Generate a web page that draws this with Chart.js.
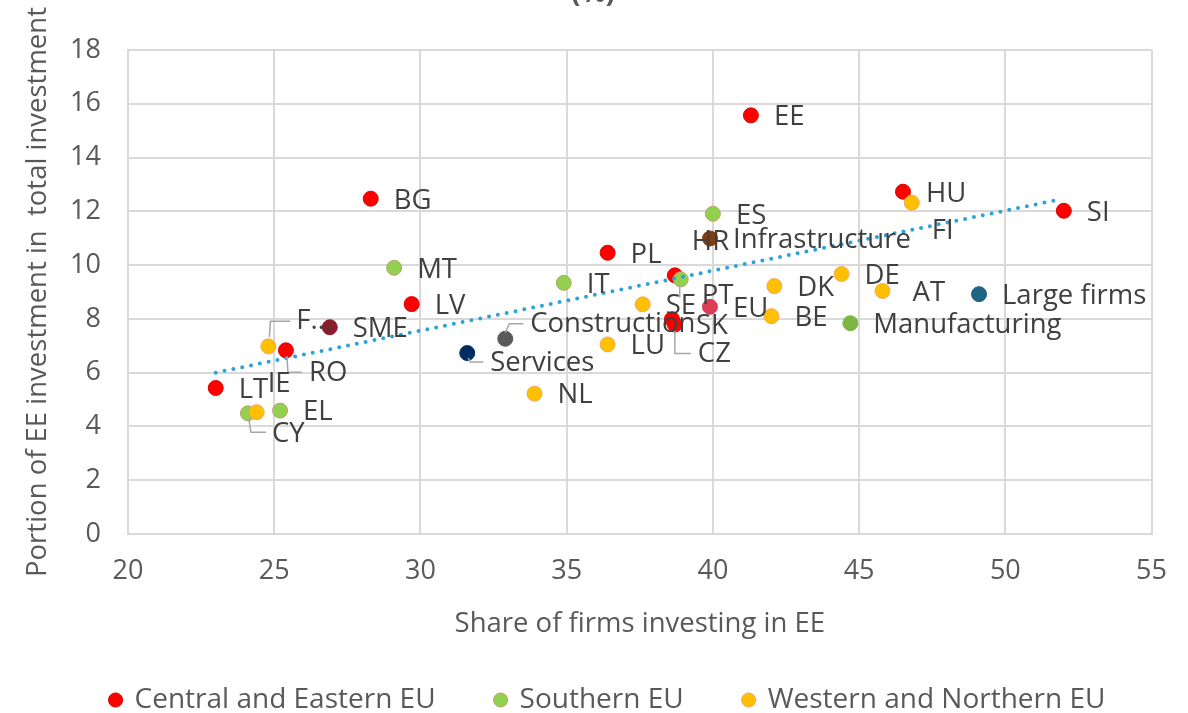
<!DOCTYPE html>
<html>
<head>
<meta charset="utf-8">
<script src="https://cdn.jsdelivr.net/npm/chart.js@4.4.0/dist/chart.umd.min.js"></script>
<style>
  html,body{margin:0;padding:0;background:#fff;}
  #wrap{width:1188px;height:713px;position:relative;}
</style>
</head>
<body>
<div id="wrap"><canvas id="ch"></canvas></div>
<script>
// DATA
const ceeNames = ['EE','HU','SI','BG','PL','HR','LV','SK','CZ','RO','LT'];
const ceeX     = [41.3, 46.5, 52.0, 28.3, 36.4, 38.7, 29.7, 38.6, 38.7, 25.4, 23.0];
const ceeY     = [15.57,12.73,12.02,12.47,10.46,9.62, 8.55, 7.99, 7.79, 6.83, 5.43];

const southNames = ['ES','MT','IT','PT','EL','CY'];
const southX     = [40.0, 29.1, 34.9, 38.9, 25.2, 24.1];
const southY     = [11.91,9.90, 9.34, 9.47, 4.59, 4.49];

const wnNames = ['FI','DE','DK','AT','SE','BE','LU','F…','NL','IE'];
const wnX     = [46.8, 44.4, 42.1, 45.8, 37.6, 42.0, 36.4, 24.8, 33.9, 24.4];
const wnY     = [12.32,9.67, 9.22, 9.04, 8.54, 8.10, 7.05, 6.98, 5.22, 4.53];

const otherNames = ['Infrastructure','Large firms','EU','Manufacturing','SME','Construction','Services'];
const otherX     = [39.9, 49.1, 39.9, 44.7, 26.9, 32.9, 31.6];
const otherY     = [10.99,8.92, 8.45, 7.84, 7.69, 7.26, 6.73];

const trendX = [23.0, 51.9];
const trendY = [6.0, 12.45];

const seriesLabels = ['Central and Eastern EU','Southern EU','Western and Northern EU'];
const xTicks = [20,25,30,35,40,45,50,55];
const yTicks = [0,2,4,6,8,10,12,14,16,18];

// label offsets (px) relative to point, text left-aligned, middle baseline
const LBL = {
  'HR':[17,-33], 'FI':[20,28], 'PT':[21,17], 'SK':[24,7], 'CZ':[23,30],
  'Construction':[25,-15], 'F…':[28,-25], 'RO':[23,23], 'Services':[23,10],
  'IE':[11,-28], 'CY':[24,21], 'AT':[30,2]
};
// leader lines (px offsets from point)
const LEAD = {
  'F…':[[1,-9],[2,-25],[22,-25]],
  'RO':[[1,6],[2,22],[16,22]],
  'CZ':[[0,6],[0,29],[16,29]],
  'CY':[[1,6],[3,19],[18,19]],
  'Services':[[1,5],[3,9],[16,9]],
  'Construction':[[0,-6],[4,-15],[18,-15]],
  'PT':[[-1,6],[-1,18]]
};

const pts = (xs,ys)=>xs.map((x,i)=>({x:x,y:ys[i]}));
const FONT = '"Open Sans", "Noto Sans", sans-serif';
const GAP = '\u2003\u2003';

const labelPlugin = {
  id:'pointLabels',
  afterLayout(chart){
    // nudge the legend to where the reference has it
    const lg = chart.legend;
    if(!lg) return;
    const h = lg.bottom - lg.top;
    lg.left += 24; lg.right += 24;
    lg.top = 682; lg.bottom = lg.top + h;
  },
  afterDatasetsDraw(chart){
    const ctx = chart.ctx;
    ctx.save();
    chart.data.datasets.forEach((ds,di)=>{
      if(!ds.names) return;
      const meta = chart.getDatasetMeta(di);
      meta.data.forEach((el,i)=>{
        const n = ds.names[i];
        const lead = LEAD[n];
        if(lead){
          ctx.strokeStyle = '#A6A6A6'; ctx.lineWidth = 1.5;
          ctx.beginPath();
          lead.forEach((p,k)=>{ k ? ctx.lineTo(el.x+p[0],el.y+p[1]) : ctx.moveTo(el.x+p[0],el.y+p[1]); });
          ctx.stroke();
        }
        const o = LBL[n] || [23,2];
        ctx.fillStyle = '#404040';
        ctx.font = '27.5px '+FONT;
        ctx.textAlign = 'left'; ctx.textBaseline = 'middle';
        ctx.fillText(n, el.x+o[0], el.y+o[1]);
      });
    });
    ctx.restore();
  },
  afterDraw(chart){
    const ctx = chart.ctx;
    ctx.save();
    ctx.fillStyle = '#595959';
    ctx.font = 'bold 28px '+FONT;
    ctx.textAlign = 'center'; ctx.textBaseline = 'alphabetic';
    ctx.fillText('(%)', 593, 2);
    ctx.restore();
  }
};

new Chart(document.getElementById('ch'),{
  type:'scatter',
  data:{
    datasets:[
      {label:'trend',type:'line',data:pts(trendX,trendY),borderColor:'#2CA3D6',borderWidth:4,
        borderDash:[0,9],borderCapStyle:'round',pointRadius:0,fill:false,order:0},
      {label:seriesLabels[0],names:ceeNames,data:pts(ceeX,ceeY),backgroundColor:'#FF0000',borderColor:'#E00000',order:4},
      {label:seriesLabels[1],names:southNames,data:pts(southX,southY),backgroundColor:'#92D050',borderColor:'#C0A070',order:3},
      {label:seriesLabels[2],names:wnNames,data:pts(wnX,wnY),backgroundColor:'#FFC000',borderColor:'#F4A460',order:2},
      {label:'other',names:otherNames,data:pts(otherX,otherY),
        backgroundColor:['#843C0C','#1F6480','#DC3D55','#7DB642','#8B1A2C','#5A5A5A','#002C5F'],
        borderColor:['#843C0C','#1F6480','#DC3D55','#7DB642','#8B1A2C','#5A5A5A','#002C5F'],order:1}
    ]
  },
  options:{
    responsive:true,maintainAspectRatio:false,animation:false,
    elements:{point:{radius:7.5,borderWidth:1,hoverRadius:7.5}},
    layout:{padding:{left:0,right:20,top:50,bottom:0}},
    plugins:{
      tooltip:{enabled:false},
      legend:{
        position:'bottom',
        labels:{
          filter:(it)=>seriesLabels.includes(it.text.trim()),
          generateLabels:(chart)=>{
            const base = Chart.defaults.plugins.legend.labels.generateLabels(chart);
            return base.map(it=>{
              const k = seriesLabels.indexOf(it.text);
              if(k>=0 && k<seriesLabels.length-1) it.text = it.text+GAP;
              return it;
            });
          },
          sort:(a,b)=>a.datasetIndex-b.datasetIndex,
          usePointStyle:true,pointStyle:'circle',boxWidth:10,boxHeight:10,padding:4,
          color:'#595959',font:{family:FONT,size:28}
        }
      }
    },
    scales:{
      x:{
        type:'linear',min:20,max:55,
        afterBuildTicks:s=>{ s.ticks = xTicks.map(v=>({value:v})); },
        afterFit:s=>{ s.height = 137; },
        grid:{color:'#D9D9D9',lineWidth:2,drawTicks:false},
        border:{color:'#D9D9D9',width:2},
        ticks:{padding:21,color:'#595959',font:{family:FONT,size:27}},
        title:{display:true,text:'Share of firms investing in EE',color:'#595959',
          font:{family:FONT,size:27.5},padding:{top:10,bottom:30}}
      },
      y:{
        type:'linear',min:0,max:18,
        afterBuildTicks:s=>{ s.ticks = yTicks.map(v=>({value:v})); },
        afterFit:s=>{ s.width = 128; },
        grid:{color:'#D9D9D9',lineWidth:2,drawTicks:false},
        border:{color:'#D9D9D9',width:2},
        ticks:{padding:27,color:'#595959',font:{family:FONT,size:27}},
        title:{display:true,text:'Portion of EE investment in  total investment',color:'#595959',
          font:{family:FONT,size:27.5},padding:{top:22,bottom:0}}
      }
    }
  },
  plugins:[labelPlugin]
});
</script>
</body>
</html>
